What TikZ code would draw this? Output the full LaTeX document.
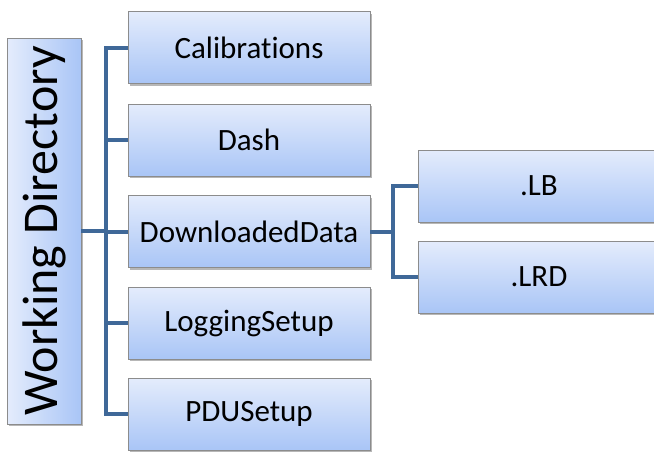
\documentclass[tikz,border=0pt]{standalone}
\usepackage{fontspec}
\setmainfont{Carlito}[Ligatures=NoCommon]
\usetikzlibrary{shadows}
\definecolor{boxtop}{HTML}{E4ECFC}
\definecolor{boxbot}{HTML}{A9C5F6}
\definecolor{boxline}{HTML}{8C8C8C}
\definecolor{bus}{HTML}{3F6898}
\tikzset{
  box/.style={draw=boxline, line width=0.8pt, top color=boxtop, bottom color=boxbot,
    inner sep=0pt, minimum width=242pt, minimum height=72pt,
    font=\fontsize{31}{31}\selectfont,
    drop shadow={shadow xshift=1.5pt, shadow yshift=-2pt, opacity=0.4, fill=black!70}},
  rootbox/.style={draw=boxline, line width=0.8pt, left color=boxtop, right color=boxbot,
    inner sep=0pt, minimum width=386pt, minimum height=74pt, rotate=90,
    font=\fontsize{50}{50}\selectfont,
    drop shadow={shadow xshift=1.5pt, shadow yshift=-2pt, opacity=0.4, fill=black!70}},
  link/.style={draw=bus, line width=4pt}
}
\begin{document}
\begin{tikzpicture}[x=1pt,y=-1pt]
\useasboundingbox (0,0) rectangle (654,451);
\clip (0,0) rectangle (654,451);
\node[rootbox] (wd) at (44,231) {Working Directory};
\node[box] (cal) at (249,47.5) {Calibrations};
\node[box] (dash) at (249,140) {Dash};
\node[box] (dl) at (249,231.5) {DownloadedData};
\node[box] (log) at (249,323) {LoggingSetup};
\node[box] (pdu) at (249,414) {PDUSetup};
\node[box] (lb) at (539,186) {.LB};
\node[box] (lrd) at (539,277) {.LRD};
\coordinate (b1) at (106,0);
\coordinate (b2) at (393,0);
\draw[link] (wd.south) -- (b1 |- wd.south);
\draw[link] (cal.west) -- (b1 |- cal.west) -- (b1 |- pdu.west) -- (pdu.west);
\draw[link] (dash.west) -- (b1 |- dash.west);
\draw[link] (dl.west) -- (b1 |- dl.west);
\draw[link] (log.west) -- (b1 |- log.west);
\draw[link] (dl.east) -- (b2 |- dl.east);
\draw[link] (lb.west) -- (b2 |- lb.west) -- (b2 |- lrd.west) -- (lrd.west);
\end{tikzpicture}
\end{document}
